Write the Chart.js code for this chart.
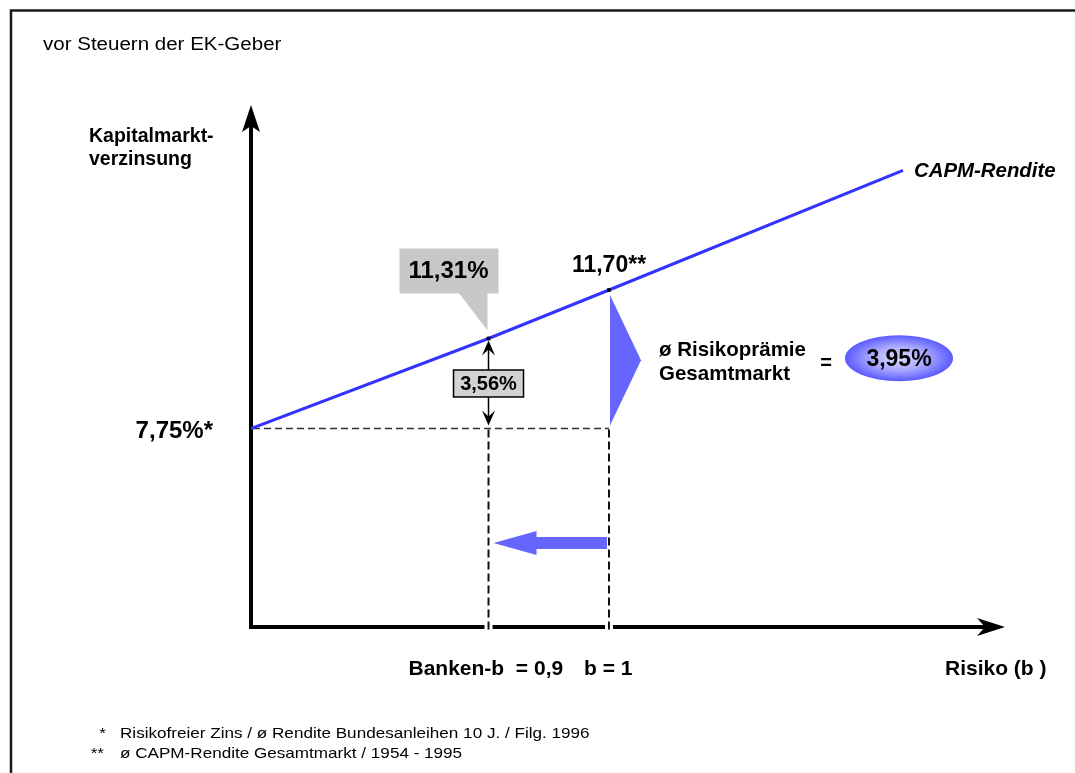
<!DOCTYPE html>
<html lang="de">
<head>
<meta charset="utf-8">
<title>CAPM-Rendite</title>
<script src="https://cdn.jsdelivr.net/npm/chart.js@4.4.1/dist/chart.umd.min.js"></script>
<style>
  html, body { margin: 0; padding: 0; background: #fff; }
  canvas { display: block; }
</style>
</head>
<body>
<canvas id="chart" width="1075" height="773"></canvas>
<script>
// Beta (risk) and CAPM return in percent
const betas = [0, 0.9, 1, 1.245];
const capmReturns = [7.75, 11.31, 11.70, 12.67];
const riskFreeRate = 7.75;
const bankBeta = 0.9;
const marketBeta = 1;
const bankReturn = 11.31;
const marketReturn = 11.70;
const bankPremium = 3.56;
const marketPremium = 3.95;

// Texts
const headerText = 'vor Steuern der EK-Geber';
const yAxisTitle = ['Kapitalmarkt-', 'verzinsung'];
const xAxisTitle = 'Risiko (b )';
const xTickLabels = ['Banken-b  = 0,9', 'b = 1'];
const riskFreeLabel = '7,75%*';
const bankReturnLabel = '11,31%';
const marketReturnLabel = '11,70**';
const bankPremiumLabel = '3,56%';
const marketPremiumLabel = '3,95%';
const premiumCaption = ['ø Risikoprämie', 'Gesamtmarkt'];
const lineCaption = 'CAPM-Rendite';
const footnoteMarks = ['*', '**'];
const footnotes = [
  'Risikofreier Zins / ø Rendite Bundesanleihen 10 J. / Filg. 1996',
  'ø CAPM-Rendite Gesamtmarkt / 1954 - 1995'
];

const FONT = '"Liberation Sans", Arial, Helvetica, sans-serif';
const BLUE_LINE = '#3333ff';
const BLUE_FILL = '#6666ff';

// Linear scale with break points: each [value, fraction of axis length]
// pair pins a value, values between pins are interpolated linearly.
class BrokenScale extends Chart.LinearScale {
  toFraction(v) {
    const k = this.options.breaks;
    let i = 1;
    while (i < k.length - 1 && v > k[i][0]) i++;
    const [v0, f0] = k[i - 1], [v1, f1] = k[i];
    return f0 + (v - v0) * (f1 - f0) / (v1 - v0);
  }
  fromFraction(f) {
    const k = this.options.breaks;
    let i = 1;
    while (i < k.length - 1 && f > k[i][1]) i++;
    const [v0, f0] = k[i - 1], [v1, f1] = k[i];
    return v0 + (f - f0) * (v1 - v0) / (f1 - f0);
  }
  getPixelForValue(value) {
    if (value === null || value === undefined || isNaN(value)) return NaN;
    return this.getPixelForDecimal(this.toFraction(value));
  }
  getValueForPixel(pixel) {
    return this.fromFraction(this.getDecimalForPixel(pixel));
  }
}
BrokenScale.id = 'broken';
BrokenScale.defaults = Chart.LinearScale.defaults;
Chart.register(BrokenScale);

function arrowHead(ctx, tipX, tipY, dirX, dirY, len, half, notch) {
  const px = -dirY, py = dirX;
  ctx.beginPath();
  ctx.moveTo(tipX, tipY);
  ctx.lineTo(tipX - dirX * len + px * half, tipY - dirY * len + py * half);
  ctx.lineTo(tipX - dirX * notch, tipY - dirY * notch);
  ctx.lineTo(tipX - dirX * len - px * half, tipY - dirY * len - py * half);
  ctx.closePath();
  ctx.fill();
}

// sx stretches the text horizontally (the plain texts run wide)
function text(ctx, str, x, y, font, align, baseline, sx) {
  ctx.save();
  ctx.font = font;
  ctx.textAlign = align || 'left';
  ctx.textBaseline = baseline || 'alphabetic';
  ctx.fillStyle = '#000';
  ctx.translate(x, y);
  ctx.scale(sx || 1, 1);
  ctx.fillText(str, 0, 0);
  ctx.restore();
}

const diagramPlugin = {
  id: 'capmDiagram',
  beforeDatasetsDraw(chart) {
    const ctx = chart.ctx;
    const xs = chart.scales.x, ys = chart.scales.y;
    const area = chart.chartArea;
    const x0 = xs.getPixelForValue(0);
    const x09 = xs.getPixelForValue(bankBeta);
    const x1 = xs.getPixelForValue(marketBeta);
    const yRf = ys.getPixelForValue(riskFreeRate);
    const yBank = ys.getPixelForValue(bankReturn);
    const yBottom = area.bottom;
    ctx.save();

    // frame
    ctx.strokeStyle = '#1a1a1a';
    ctx.lineWidth = 2.5;
    ctx.beginPath();
    ctx.moveTo(11, 773);
    ctx.lineTo(11, 10.5);
    ctx.lineTo(1075, 10.5);
    ctx.stroke();

    text(ctx, headerText, 43, 50, '18px ' + FONT, 'left', 'alphabetic', 1.14);
    text(ctx, yAxisTitle[0], 89, 142, 'bold 19.5px ' + FONT);
    text(ctx, yAxisTitle[1], 89, 165, 'bold 19.5px ' + FONT);
    text(ctx, riskFreeLabel, x0 - 38, 438, 'bold 24px ' + FONT, 'right');

    // dashed guides
    ctx.setLineDash([7, 4]);
    ctx.strokeStyle = '#333';
    ctx.lineWidth = 1.5;
    ctx.beginPath();
    ctx.moveTo(x0 + 2, yRf);
    ctx.lineTo(x1, yRf);
    ctx.stroke();

    // axes
    ctx.setLineDash([]);
    ctx.fillStyle = '#000';
    ctx.strokeStyle = '#000';
    ctx.lineWidth = 4;
    ctx.beginPath();
    ctx.moveTo(x0, yBottom + 2);
    ctx.lineTo(x0, area.top + 20);
    ctx.stroke();
    arrowHead(ctx, x0, area.top, 0, -1, 27, 9, 21);
    ctx.beginPath();
    ctx.moveTo(x0 - 2, yBottom);
    ctx.lineTo(area.right - 20, yBottom);
    ctx.stroke();
    arrowHead(ctx, area.right, yBottom, 1, 0, 28, 9, 20);

    // gaps in the x axis where the guides cross it
    ctx.fillStyle = '#fff';
    [x09, x1].forEach(x => ctx.fillRect(x - 4, yBottom - 3, 8, 6));

    ctx.setLineDash([8, 4]);
    ctx.strokeStyle = '#111';
    ctx.lineWidth = 2;
    [x09, x1].forEach(x => {
      ctx.beginPath();
      ctx.moveTo(x, yRf + 1);
      ctx.lineTo(x, yBottom + 3);
      ctx.stroke();
    });
    ctx.setLineDash([]);

    // callout with the bank-beta return
    ctx.fillStyle = '#c8c8c8';
    ctx.fillRect(x09 - 89, yBank - 90, 99, 45);
    ctx.beginPath();
    ctx.moveTo(x09 - 30, yBank - 46);
    ctx.lineTo(x09 - 1, yBank - 46);
    ctx.lineTo(x09 - 1, yBank - 8);
    ctx.closePath();
    ctx.fill();
    text(ctx, bankReturnLabel, x09 - 40, yBank - 67, 'bold 24px ' + FONT, 'center', 'middle');

    ctx.restore();
  },
  afterDatasetsDraw(chart) {
    const ctx = chart.ctx;
    const xs = chart.scales.x, ys = chart.scales.y;
    const area = chart.chartArea;
    const x09 = xs.getPixelForValue(bankBeta);
    const x1 = xs.getPixelForValue(marketBeta);
    const xEnd = xs.getPixelForValue(betas[betas.length - 1]);
    const yEnd = ys.getPixelForValue(capmReturns[capmReturns.length - 1]);
    const yRf = ys.getPixelForValue(riskFreeRate);
    const yBank = ys.getPixelForValue(bankReturn);
    const yMarket = ys.getPixelForValue(marketReturn);
    const yMid = ys.getPixelForValue(riskFreeRate + bankPremium / 2);
    ctx.save();

    // double arrow for the bank risk premium
    ctx.strokeStyle = '#000';
    ctx.fillStyle = '#000';
    ctx.lineWidth = 1.5;
    ctx.beginPath();
    ctx.moveTo(x09, yBank + 8);
    ctx.lineTo(x09, yRf - 8);
    ctx.stroke();
    arrowHead(ctx, x09, yBank + 2, 0, -1, 15, 6.5, 9);
    arrowHead(ctx, x09, yRf - 3, 0, 1, 15, 6.5, 9);

    ctx.fillStyle = '#d2d2d2';
    ctx.fillRect(x09 - 35, yMid - 13.5, 70, 27);
    ctx.strokeStyle = '#000';
    ctx.lineWidth = 1.5;
    ctx.strokeRect(x09 - 35, yMid - 13.5, 70, 27);
    text(ctx, bankPremiumLabel, x09, yMid + 1, 'bold 20px ' + FONT, 'center', 'middle');

    text(ctx, marketReturnLabel, x1, yMarket - 18, 'bold 23px ' + FONT, 'center');
    text(ctx, lineCaption, xEnd + 11, yEnd + 7, 'italic bold 20.4px ' + FONT);

    // market risk premium wedge
    const wedgeTop = yMarket + 5, wedgeBottom = yRf - 3;
    const wedgeMid = (wedgeTop + wedgeBottom) / 2;
    ctx.fillStyle = BLUE_FILL;
    ctx.beginPath();
    ctx.moveTo(x1 + 1, wedgeTop);
    ctx.lineTo(x1 + 32, wedgeMid);
    ctx.lineTo(x1 + 1, wedgeBottom);
    ctx.closePath();
    ctx.fill();

    text(ctx, premiumCaption[0], x1 + 50, wedgeMid - 4, 'bold 20.5px ' + FONT);
    text(ctx, premiumCaption[1], x1 + 50, wedgeMid + 20, 'bold 20.5px ' + FONT);
    text(ctx, '=', x1 + 217, wedgeMid + 9, 'bold 20px ' + FONT, 'center');

    // ellipse with the market risk premium
    const ex = x1 + 290, ey = wedgeMid - 2, rx = 54, ry = 23;
    ctx.save();
    ctx.translate(ex, ey);
    ctx.scale(1, ry / rx);
    const g = ctx.createRadialGradient(0, 0, 0, 0, 0, rx);
    g.addColorStop(0, '#dcdcff');
    g.addColorStop(0.55, '#a4a4ff');
    g.addColorStop(1, '#5a5aff');
    ctx.fillStyle = g;
    ctx.beginPath();
    ctx.arc(0, 0, rx, 0, Math.PI * 2);
    ctx.fill();
    ctx.restore();
    text(ctx, marketPremiumLabel, ex, ey + 1, 'bold 23px ' + FONT, 'center', 'middle');

    // arrow from market beta to bank beta
    const ay = area.bottom - (area.bottom - area.top) * 0.161;
    const tip = x09 + 5, tail = x1 - 2;
    ctx.fillStyle = BLUE_FILL;
    ctx.beginPath();
    ctx.moveTo(tip, ay);
    ctx.lineTo(tip + 43, ay - 12);
    ctx.lineTo(tip + 43, ay - 6);
    ctx.lineTo(tail, ay - 6);
    ctx.lineTo(tail, ay + 6);
    ctx.lineTo(tip + 43, ay + 6);
    ctx.lineTo(tip + 43, ay + 12);
    ctx.closePath();
    ctx.fill();

    // x-axis labels
    text(ctx, xTickLabels[0], x09 - 80, 675, 'bold 21px ' + FONT);
    text(ctx, xTickLabels[1], x1 - 25, 675, 'bold 21px ' + FONT);
    text(ctx, xAxisTitle, 945, 675, 'bold 21px ' + FONT);

    // footnotes
    text(ctx, footnoteMarks[0], 106, 738, '15px ' + FONT, 'right', 'alphabetic', 1.14);
    text(ctx, footnotes[0], 120, 738, '15px ' + FONT, 'left', 'alphabetic', 1.14);
    text(ctx, footnoteMarks[1], 104, 758, '15px ' + FONT, 'right', 'alphabetic', 1.14);
    text(ctx, footnotes[1], 120, 758, '15px ' + FONT, 'left', 'alphabetic', 1.14);

    ctx.restore();
  }
};

new Chart(document.getElementById('chart'), {
  type: 'line',
  data: {
    datasets: [{
      data: betas.map((b, i) => ({ x: b, y: capmReturns[i] })),
      borderColor: BLUE_LINE,
      borderWidth: 3,
      tension: 0,
      fill: false,
      pointStyle: 'rect',
      pointRadius: betas.map(b => (b === bankBeta || b === marketBeta) ? 2.6 : 0),
      pointBackgroundColor: '#000',
      pointBorderColor: '#000',
      pointBorderWidth: 0
    }]
  },
  options: {
    responsive: false,
    animation: false,
    events: [],
    layout: { padding: { left: 251, right: 70, top: 105, bottom: 146 } },
    plugins: {
      legend: { display: false },
      tooltip: { enabled: false },
      title: { display: false }
    },
    scales: {
      x: {
        type: 'broken', display: false, min: 0, max: 1.33,
        breaks: [[0, 0], [0.9, 0.315], [1, 0.4748], [1.33, 1]]
      },
      y: {
        type: 'broken', display: false, min: 0, max: 13.2,
        breaks: [[0, 0], [7.75, 0.3803], [11.31, 0.5527], [11.70, 0.6456], [13.2, 1]]
      }
    }
  },
  plugins: [diagramPlugin]
});
</script>
</body>
</html>
